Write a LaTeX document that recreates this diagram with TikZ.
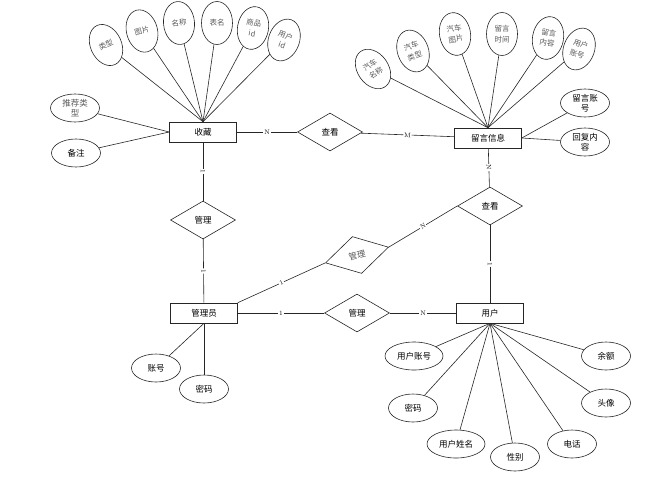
\documentclass[tikz,border=0pt]{standalone}
\usepackage{fontspec}
\newfontfamily\cjk{Noto Sans CJK SC}
\usetikzlibrary{shapes, shapes.geometric, calc, positioning}

\begin{document}
\begin{tikzpicture}[x=1pt, y=-1pt, font=\cjk\fontsize{8.5}{10}\selectfont, line width=0.6pt, draw=black!85,
    ent/.style={draw, fill=white, minimum width=67pt, minimum height=20pt, inner sep=0pt},
    rel/.style={draw, diamond, fill=white, minimum width=65pt, minimum height=38pt, inner sep=0pt},
    attr/.style={draw, ellipse, minimum width=49pt, minimum height=28pt, inner sep=0pt, align=center},
    tattr/.style={draw, ellipse, minimum width=31pt, minimum height=43pt, inner sep=0pt, align=center,
        text=black!65, font=\cjk\fontsize{7.5}{10.5}\selectfont},
    lab/.style={font=\fontsize{6.5}{6.5}\selectfont, fill=white, inner sep=0.8pt, sloped}]

\useasboundingbox (0,0) rectangle (666,477);

% entities and relations
\node[ent] (fav) at (203,132) {收藏};
\node[ent] (msg) at (488,138) {留言信息};
\node[ent] (adm) at (204,313) {管理员};
\node[ent] (usr) at (490,313) {用户};

\node[rel] (look1) at (330,132) {查看};
\node[rel] (look2) at (490,206) {查看};
\node[rel] (mgr1) at (203,220) {管理};
\node[rel] (mgr3) at (357,313) {管理};
\node[rel, rotate=14, text=black!65] (mgr2) at (357,255) {管理};

% attributes of fav
\node[tattr, rotate=25] (f1) at (106,45) {类型};
\node[tattr, rotate=15] (f2) at (142,31) {图片};
\node[tattr, rotate=5] (f3) at (179,23) {名称};
\node[tattr] (f4) at (217,23) {表名};
\node[tattr, rotate=-10] (f5) at (253,28) {商品\\id};
\node[tattr, rotate=-20] (f6) at (284,40) {用户\\id};
\node[attr, text=black!65] (f7) at (75,108) {推荐类\\型};
\node[attr] (f8) at (76,153) {备注};

\foreach \a in {f1,f2,f3,f4,f5,f6}
    \draw (\a) -- (fav.north);
\draw (f7) -- (fav.west);
\draw (f8) -- (fav.west);

% attributes of msg
\node[tattr, rotate=35] (m1) at (373,69) {汽车\\名称};
\node[tattr, rotate=20] (m2) at (413,51) {汽车\\类型};
\node[tattr, rotate=10] (m3) at (455,34) {汽车\\图片};
\node[tattr] (m4) at (502,34) {留言\\时间};
\node[tattr, rotate=-10] (m5) at (548,38) {留言\\内容};
\node[tattr, rotate=-20] (m6) at (579,49) {用户\\账号};
\node[attr] (m7) at (585,103) {留言账\\号};
\node[attr] (m8) at (585,142) {回复内\\容};

\foreach \a in {m1,m2,m3,m4,m5,m6}
    \draw (\a) -- (msg.north);
\draw (m7) -- (msg.east);
\draw (m8) -- (msg.east);

% attributes of adm
\node[attr] (a1) at (156,368) {账号};
\node[attr] (a2) at (204,389) {密码};
\draw (a1) -- (adm.south);
\draw (a2) -- (adm.south);

% attributes of usr
\node[attr, minimum width=58pt] (u1) at (414,356) {用户账号};
\node[attr] (u2) at (413,408) {密码};
\node[attr, minimum width=58pt] (u3) at (456,444) {用户姓名};
\node[attr] (u4) at (515,457) {性别};
\node[attr] (u5) at (572,444) {电话};
\node[attr] (u6) at (606,403) {头像};
\node[attr] (u7) at (606,356) {余额};

\foreach \a in {u1,u2,u3,u4,u5,u6,u7}
    \draw (\a) -- (usr.south);

% links
\draw (fav) -- node[lab] {N} (look1);
\draw (look1) -- node[lab] {M} (msg);
\draw (fav) -- node[lab] {1} (mgr1);
\draw (mgr1) -- node[lab] {1} (adm);
\draw (adm) -- node[lab] {1} (mgr3);
\draw (mgr3) -- node[lab] {N} (usr);
\draw (msg) -- node[lab] {N} (look2);
\draw (look2) -- node[lab] {1} (usr);
\draw (adm.north east) -- node[lab] {1} (mgr2.west);
\draw (mgr2.east) -- node[lab] {N} (look2.west);

\end{tikzpicture}
\end{document}
